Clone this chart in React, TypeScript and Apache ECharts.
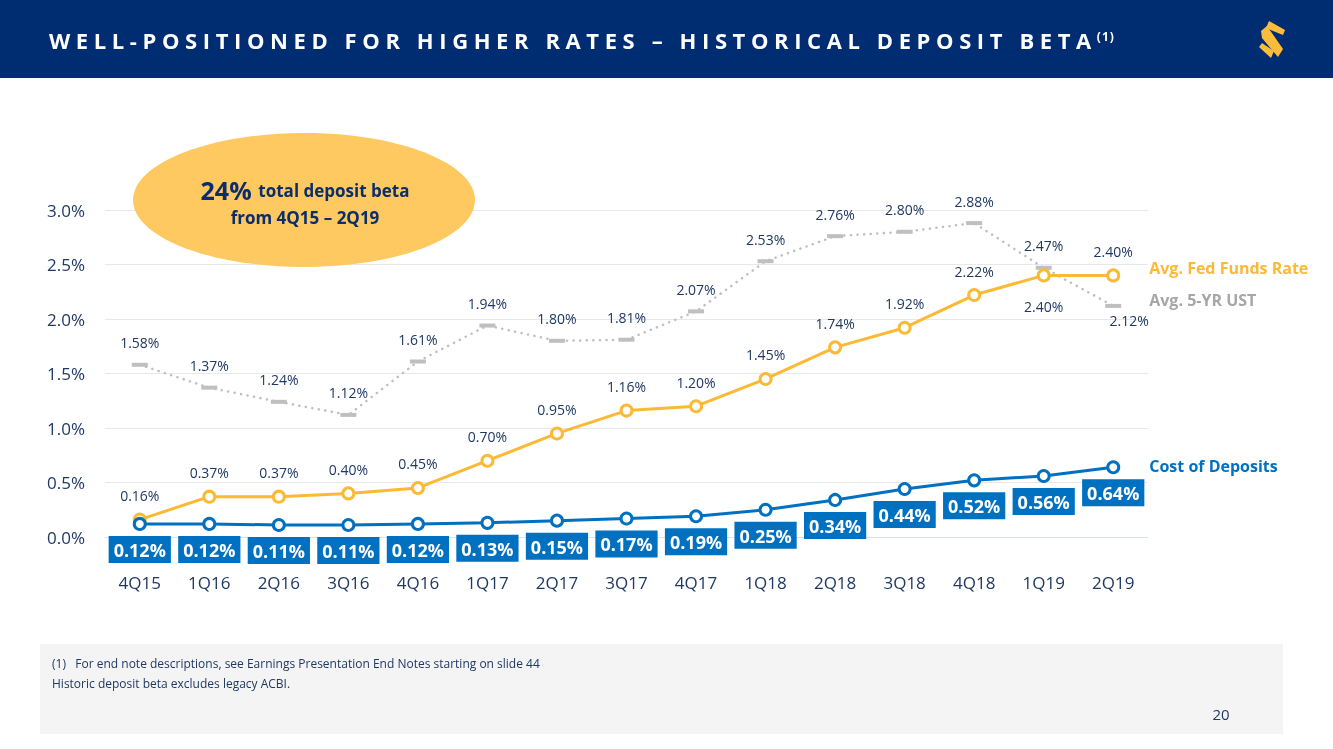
import React, { useEffect, useRef } from "react";
import * as echarts from "echarts";

const categories = ["4Q15", "1Q16", "2Q16", "3Q16", "4Q16", "1Q17", "2Q17", "3Q17", "4Q17", "1Q18", "2Q18", "3Q18", "4Q18", "1Q19", "2Q19"];
const fedFunds = [0.16, 0.37, 0.37, 0.40, 0.45, 0.70, 0.95, 1.16, 1.20, 1.45, 1.74, 1.92, 2.22, 2.40, 2.40];
const ust5yr = [1.58, 1.37, 1.24, 1.12, 1.61, 1.94, 1.80, 1.81, 2.07, 2.53, 2.76, 2.80, 2.88, 2.47, 2.12];
const costDeposits = [0.12, 0.12, 0.11, 0.11, 0.12, 0.13, 0.15, 0.17, 0.19, 0.25, 0.34, 0.44, 0.52, 0.56, 0.64];
const yTicks = { min: 0, max: 3, interval: 0.5 };

const NAVY = "#1F3864";
const YELLOW = "#FBB934";
const GRAY = "#BFBFBF";
const BLUE = "#0070C0";
const FONT = "'Open Sans', 'Noto Sans', sans-serif";

export default function App() {
  const ref = useRef<HTMLDivElement>(null);
  useEffect(() => {
    document.body.style.margin = "0";
    const chart = echarts.init(ref.current!, null, { renderer: "svg" });
    const pct = (p: any) => Number(p.value).toFixed(2) + "%";
    chart.setOption({
      animation: false,
      textStyle: { fontFamily: FONT },
      grid: { left: 105, right: 185, top: 210, bottom: 212, containLabel: false },
      xAxis: {
        type: "category",
        data: categories,
        boundaryGap: true,
        axisLine: { lineStyle: { color: "#DAE3F3", width: 1 } },
        axisTick: { show: false },
        axisLabel: { color: NAVY, fontSize: 17, margin: 37, fontFamily: FONT },
      },
      yAxis: {
        type: "value",
        min: yTicks.min,
        max: yTicks.max,
        interval: yTicks.interval,
        axisLine: { show: false },
        axisTick: { show: false },
        splitLine: { lineStyle: { color: "#E8E8E8", width: 1 } },
        axisLabel: { color: NAVY, fontSize: 17, margin: 20, fontFamily: FONT, formatter: (v: number) => v.toFixed(1) + "%" },
      },
      series: [
        {
          name: "Avg. 5-YR UST",
          type: "line",
          data: ust5yr.map((v, i) =>
            i === ust5yr.length - 1
              ? { value: v, label: { position: "bottom", distance: 6, offset: [16, 0] } }
              : v
          ),
          symbol: "rect",
          symbolSize: [16, 4],
          itemStyle: { color: GRAY },
          lineStyle: { color: GRAY, width: 2.5, type: [0.1, 6.5], cap: "round" },
          label: { show: true, position: "top", distance: 13, color: NAVY, fontSize: 14, formatter: pct },
          endLabel: { show: true, formatter: "Avg. 5-YR UST", color: "#A6A6A6", fontWeight: "bold", fontSize: 16, distance: 36, offset: [0, -6] },
          z: 2,
        },
        {
          name: "Avg. Fed Funds Rate",
          type: "line",
          data: fedFunds.map((v, i) =>
            i === fedFunds.length - 2
              ? { value: v, label: { position: "bottom", distance: 17 } }
              : v
          ),
          symbol: "circle",
          symbolSize: 11,
          itemStyle: { color: "#FFFFFF", borderColor: YELLOW, borderWidth: 3 },
          lineStyle: { color: YELLOW, width: 3 },
          label: { show: true, position: "top", distance: 10, color: NAVY, fontSize: 14, formatter: pct },
          endLabel: { show: true, formatter: "Avg. Fed Funds Rate", color: YELLOW, fontWeight: "bold", fontSize: 16, distance: 36, offset: [0, -7] },
          z: 3,
        },
        {
          name: "Cost of Deposits",
          type: "line",
          data: costDeposits,
          symbol: "circle",
          symbolSize: 11,
          itemStyle: { color: "#FFFFFF", borderColor: BLUE, borderWidth: 3 },
          lineStyle: { color: BLUE, width: 3 },
          label: {
            show: true,
            position: "bottom",
            distance: 5,
            color: "#FFFFFF",
            fontWeight: "bold",
            fontSize: 18,
            backgroundColor: BLUE,
            padding: [5, 5, 4, 5],
            formatter: pct,
          },
          endLabel: { show: true, formatter: "Cost of Deposits", color: BLUE, fontWeight: "bold", fontSize: 16, distance: 36, offset: [0, -1] },
          z: 4,
        },
      ],
      graphic: [
        { type: "rect", z: 0, shape: { x: 0, y: 0, width: 1333, height: 78 }, style: { fill: "#002D72" } },
        { type: "polygon", shape: { points: [[1269, 21], [1285, 30], [1283, 35], [1266, 28]] }, style: { fill: "#FDBD3C" } },
        { type: "polygon", shape: { points: [[1261, 31], [1267, 26], [1283, 49], [1278, 57], [1262, 38]] }, style: { fill: "#FDBD3C" } },
        { type: "polygon", shape: { points: [[1259, 47], [1262, 43], [1274, 51], [1271, 58]] }, style: { fill: "#FDBD3C" } },
        { type: "ellipse", z: 10, shape: { cx: 304, cy: 200, rx: 171, ry: 67 }, style: { fill: "#FDC960" } },
        {
          type: "text",
          z: 11,
          x: 305,
          y: 203,
          style: {
            text: "{a|24%}  {b|total deposit beta}\n{b|from 4Q15 – 2Q19}",
            align: "center",
            verticalAlign: "middle",
            fill: "#0B2D6B",
            rich: {
              a: { fontSize: 25, fontWeight: "bold", fill: "#0B2D6B", fontFamily: FONT, lineHeight: 28 },
              b: { fontSize: 17, fontWeight: "bold", fill: "#0B2D6B", fontFamily: FONT, lineHeight: 26 },
            },
          },
        },
        { type: "rect", z: 0, shape: { x: 40, y: 644, width: 1243, height: 90 }, style: { fill: "#F4F4F4" } },
        { type: "text", x: 52, y: 663, style: { text: "(1)   For end note descriptions, see Earnings Presentation End Notes starting on slide 44", fill: NAVY, fontSize: 12, fontFamily: FONT, verticalAlign: "middle" } },
        { type: "text", x: 52, y: 683, style: { text: "Historic deposit beta excludes legacy ACBI.", fill: NAVY, fontSize: 12, fontFamily: FONT, verticalAlign: "middle" } },
        { type: "text", x: 1221, y: 714, style: { text: "20", fill: NAVY, fontSize: 15, fontFamily: FONT, align: "center", verticalAlign: "middle" } },
      ],
    });
    return () => chart.dispose();
  }, []);
  return (
    <div style={{ position: "fixed", left: 0, top: 0, width: 1333, height: 749 }}>
      <div ref={ref} style={{ position: "absolute", left: 0, top: 0, width: 1333, height: 749 }} />
      <div
        style={{
          position: "absolute",
          left: 49,
          top: 22,
          color: "#FFFFFF",
          fontFamily: FONT,
          fontWeight: 700,
          fontSize: 22,
          letterSpacing: "5.6px",
          whiteSpace: "nowrap",
          lineHeight: "30px",
        }}
      >
        WELL-POSITIONED FOR HIGHER RATES – HISTORICAL DEPOSIT BETA
        <sup style={{ fontSize: 12, letterSpacing: "1px" }}>(1)</sup>
      </div>
    </div>
  );
}
